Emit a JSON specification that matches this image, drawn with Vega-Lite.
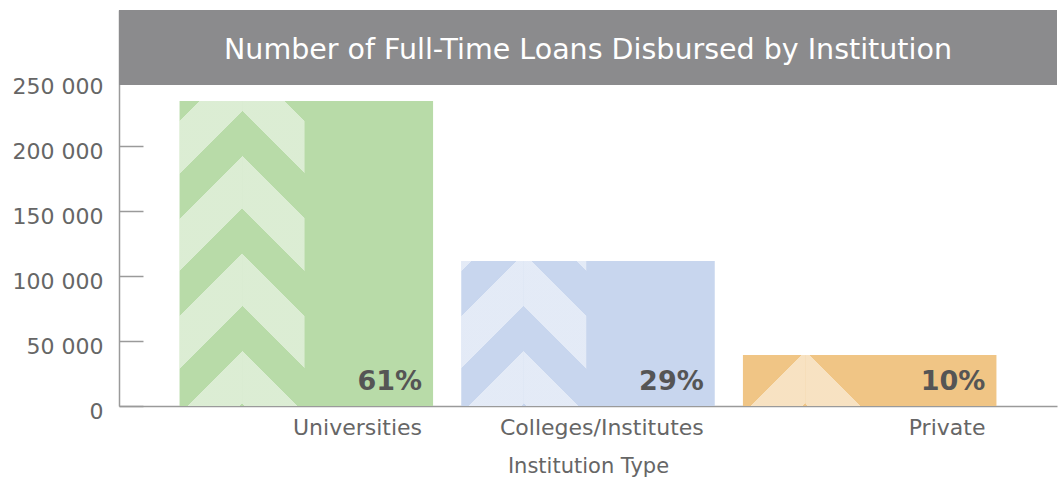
{
  "$schema": "https://vega.github.io/schema/vega-lite/v6.json",
  "width": 938,
  "height": 396,
  "autosize": {"type": "none"},
  "padding": {"left": 119, "top": 10, "right": 2, "bottom": 72},
  "background": "white",
  "config": {"view": {"stroke": null}, "font": "DejaVu Sans"},
  "data": {"values": [
    {"institution": "Universities", "loans": 235000, "share": "61%"},
    {"institution": "Colleges/Institutes", "loans": 111700, "share": "29%"},
    {"institution": "Private", "loans": 39300, "share": "10%"}
  ]},
  "layer": [
    {
      "mark": {"type": "bar"},
      "encoding": {
        "x": {"field": "institution", "type": "nominal", "sort": null,
          "scale": {"paddingInner": 0.1, "paddingOuter": 0.215},
          "axis": {"title": "Institution Type", "ticks": false, "domainColor": "#9a9a9a", "domainWidth": 1.5,
            "labelAlign": "right", "labelOffset": 115.75, "labelPadding": 11, "labelAngle": 0, "labelLimit": 400,
            "labelColor": "#666666", "labelFontSize": 22, "labelFont": "DejaVu Sans",
            "titleColor": "#666666", "titleFontSize": 21, "titleFontWeight": "normal", "titleFont": "DejaVu Sans", "titlePadding": 17}},
        "y": {"field": "loans", "type": "quantitative",
          "scale": {"domain": [0, 305000], "nice": false},
          "axis": {"values": [0, 50000, 100000, 150000, 200000, 250000],
            "labelExpr": "replace(format(datum.value, ','), ',', ' ')",
            "title": null, "grid": false, "domainColor": "#9a9a9a", "domainWidth": 1.5,
            "tickColor": "#9a9a9a", "tickSize": -24, "tickWidth": 1.5, "labelPadding": 40,
            "labelColor": "#666666", "labelFontSize": 22, "labelFont": "DejaVu Sans", "labelOffset": 5, "labelBaseline": "middle"}},
        "color": {"field": "institution", "type": "nominal", "legend": null,
          "scale": {"domain": ["Universities", "Colleges/Institutes", "Private"], "range": ["#b8dba8", "#c8d6ee", "#f0c585"]}}
      }
    },
    {
      "transform": [{"filter": "datum.institution !== 'Private'"}],
      "mark": {"type": "bar", "width": {"band": 0.2465}, "xOffset": -95.5,
        "fill": {"gradient": "linear", "x1": 0, "y1": 0, "x2": 0.22142, "y2": 1.14991,
          "stops": [
            {"offset": 0, "color": "rgba(255,255,255,0)"},
            {"offset": 0.10228, "color": "rgba(255,255,255,0)"},
            {"offset": 0.10228, "color": "rgba(255,255,255,0.5)"},
            {"offset": 0.2379, "color": "rgba(255,255,255,0.5)"},
            {"offset": 0.2379, "color": "rgba(255,255,255,0)"},
            {"offset": 0.35415, "color": "rgba(255,255,255,0)"},
            {"offset": 0.35415, "color": "rgba(255,255,255,0.5)"},
            {"offset": 0.48978, "color": "rgba(255,255,255,0.5)"},
            {"offset": 0.48978, "color": "rgba(255,255,255,0)"},
            {"offset": 0.60603, "color": "rgba(255,255,255,0)"},
            {"offset": 0.60603, "color": "rgba(255,255,255,0.5)"},
            {"offset": 0.74166, "color": "rgba(255,255,255,0.5)"},
            {"offset": 0.74166, "color": "rgba(255,255,255,0)"},
            {"offset": 0.85791, "color": "rgba(255,255,255,0)"},
            {"offset": 0.85791, "color": "rgba(255,255,255,0.5)"},
            {"offset": 0.99354, "color": "rgba(255,255,255,0.5)"},
            {"offset": 0.99354, "color": "rgba(255,255,255,0)"},
            {"offset": 1, "color": "rgba(255,255,255,0)"}
          ]}},
      "encoding": {
        "x": {"field": "institution", "type": "nominal", "sort": null},
        "y": {"datum": 250000, "type": "quantitative"},
        "y2": {"datum": 0}
      }
    },
    {
      "transform": [{"filter": "datum.institution !== 'Private'"}],
      "mark": {"type": "bar", "width": {"band": 0.2465}, "xOffset": -33,
        "fill": {"gradient": "linear", "x1": 1, "y1": 0, "x2": 0.77858, "y2": 1.14991,
          "stops": [
            {"offset": 0, "color": "rgba(255,255,255,0)"},
            {"offset": 0.10228, "color": "rgba(255,255,255,0)"},
            {"offset": 0.10228, "color": "rgba(255,255,255,0.5)"},
            {"offset": 0.2379, "color": "rgba(255,255,255,0.5)"},
            {"offset": 0.2379, "color": "rgba(255,255,255,0)"},
            {"offset": 0.35415, "color": "rgba(255,255,255,0)"},
            {"offset": 0.35415, "color": "rgba(255,255,255,0.5)"},
            {"offset": 0.48978, "color": "rgba(255,255,255,0.5)"},
            {"offset": 0.48978, "color": "rgba(255,255,255,0)"},
            {"offset": 0.60603, "color": "rgba(255,255,255,0)"},
            {"offset": 0.60603, "color": "rgba(255,255,255,0.5)"},
            {"offset": 0.74166, "color": "rgba(255,255,255,0.5)"},
            {"offset": 0.74166, "color": "rgba(255,255,255,0)"},
            {"offset": 0.85791, "color": "rgba(255,255,255,0)"},
            {"offset": 0.85791, "color": "rgba(255,255,255,0.5)"},
            {"offset": 0.99354, "color": "rgba(255,255,255,0.5)"},
            {"offset": 0.99354, "color": "rgba(255,255,255,0)"},
            {"offset": 1, "color": "rgba(255,255,255,0)"}
          ]}},
      "encoding": {
        "x": {"field": "institution", "type": "nominal", "sort": null},
        "y": {"datum": 250000, "type": "quantitative"},
        "y2": {"datum": 0}
      }
    },
    {
      "transform": [{"filter": "datum.institution === 'Private'"}],
      "mark": {"type": "bar", "width": {"band": 0.2465}, "xOffset": -95.5,
        "fill": {"gradient": "linear", "x1": 0, "y1": 0, "x2": 0.22142, "y2": 1.14991,
          "stops": [
            {"offset": 0, "color": "rgba(255,255,255,0)"},
            {"offset": 0.85791, "color": "rgba(255,255,255,0)"},
            {"offset": 0.85791, "color": "rgba(255,255,255,0.5)"},
            {"offset": 0.99354, "color": "rgba(255,255,255,0.5)"},
            {"offset": 0.99354, "color": "rgba(255,255,255,0)"},
            {"offset": 1, "color": "rgba(255,255,255,0)"}
          ]}},
      "encoding": {
        "x": {"field": "institution", "type": "nominal", "sort": null},
        "y": {"datum": 250000, "type": "quantitative"},
        "y2": {"datum": 0}
      }
    },
    {
      "transform": [{"filter": "datum.institution === 'Private'"}],
      "mark": {"type": "bar", "width": {"band": 0.2465}, "xOffset": -33,
        "fill": {"gradient": "linear", "x1": 1, "y1": 0, "x2": 0.77858, "y2": 1.14991,
          "stops": [
            {"offset": 0, "color": "rgba(255,255,255,0)"},
            {"offset": 0.85791, "color": "rgba(255,255,255,0)"},
            {"offset": 0.85791, "color": "rgba(255,255,255,0.5)"},
            {"offset": 0.99354, "color": "rgba(255,255,255,0.5)"},
            {"offset": 0.99354, "color": "rgba(255,255,255,0)"},
            {"offset": 1, "color": "rgba(255,255,255,0)"}
          ]}},
      "encoding": {
        "x": {"field": "institution", "type": "nominal", "sort": null},
        "y": {"datum": 250000, "type": "quantitative"},
        "y2": {"datum": 0}
      }
    },
    {
      "mark": {"type": "bar", "width": {"band": 0.4931}, "xOffset": -64.25, "fill": "white"},
      "encoding": {
        "x": {"field": "institution", "type": "nominal", "sort": null},
        "y": {"field": "loans", "type": "quantitative"},
        "y2": {"datum": 250000}
      }
    },
    {
      "mark": {"type": "text", "align": "right", "baseline": "alphabetic", "dx": 115.75, "dy": -16,
        "font": "DejaVu Sans", "fontWeight": "bold", "fontSize": 27, "color": "#555555"},
      "encoding": {
        "x": {"field": "institution", "type": "nominal", "sort": null},
        "y": {"datum": 0, "type": "quantitative"},
        "text": {"field": "share"}
      }
    },
    {
      "data": {"values": [{"title": "Number of Full-Time Loans Disbursed by Institution"}]},
      "mark": {"type": "rect", "color": "#8b8b8d"},
      "encoding": {
        "y": {"datum": 247200, "type": "quantitative"},
        "y2": {"datum": 305000}
      }
    },
    {
      "data": {"values": [{"title": "Number of Full-Time Loans Disbursed by Institution"}]},
      "mark": {"type": "text", "align": "center", "baseline": "middle", "font": "DejaVu Sans", "fontSize": 28.5, "color": "white"},
      "encoding": {
        "y": {"datum": 274200, "type": "quantitative"},
        "text": {"field": "title"}
      }
    }
  ]
}
